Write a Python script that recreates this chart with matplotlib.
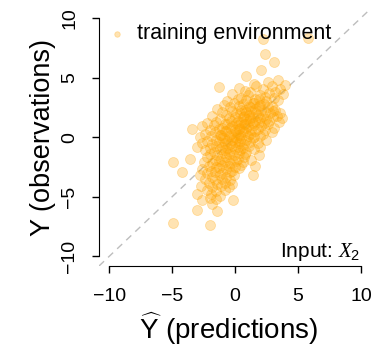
import matplotlib
matplotlib.use("Agg")
import matplotlib.pyplot as plt

plt.rcParams["font.family"] = ["Liberation Sans", "DejaVu Sans"]
plt.rcParams["mathtext.fontset"] = "custom"
plt.rcParams["mathtext.rm"] = "Liberation Sans"
plt.rcParams["mathtext.it"] = "Liberation Serif:italic"

# predictions (x) and observations (y), row by row
pred = [
    2.2, 5.8,
    2.4,
    3.1,
    2.1,
    0.9,
    3.4,
    2.6, 1.5,
    4.0, 2.9,
    -1.3, 0.3, 1.7, 3.6,
    0.8, 2.2, 3.2,
    -0.2, 1.2, 2.0, 2.7, 3.8,
    0.5, 1.0, 1.6, 2.4, 3.1,
    -0.6, 0.2, 0.9, 1.4, 1.9, 2.5, 3.4,
    -0.9, -0.1, 0.6, 1.1, 1.5, 2.0, 2.3, 2.9,
    -1.4, -0.4, 0.3, 0.8, 1.2, 1.6, 1.9, 2.6, 3.2,
    -1.0, -0.2, 0.1, 0.5, 0.9, 1.3, 1.7, 2.1, 2.4, 3.0, 3.6,
    -1.8, -0.7, 0.0, 0.4, 0.7, 1.1, 1.4, 1.8, 2.2, 2.8, 3.3,
    -1.2, -0.5, 0.2, 0.6, 0.9, 1.2, 1.6, 2.0, 2.5, 3.0, 3.7,
    -2.2, -1.5, -0.8, -0.3, 0.1, 0.5, 0.8, 1.1, 1.4, 1.9, 2.3, 2.7, 3.5,
    -2.6, -1.7, -1.0, -0.6, -0.2, 0.2, 0.4, 0.7, 1.0, 1.5, 2.1, 2.6, 3.1,
    -3.4, -2.0, -1.3, -0.8, -0.4, 0.0, 0.3, 0.6, 0.9, 1.3, 1.8, 2.4,
    -2.4, -1.6, -1.1, -0.7, -0.3, 0.1, 0.4, 0.8, 1.2, 1.6, 2.2, 2.9,
    -2.8, -1.9, -1.2, -0.9, -0.5, -0.1, 0.2, 0.5, 1.0, 1.5, 2.0,
    -2.2, -1.5, -1.0, -0.6, -0.2, 0.1, 0.4, 0.9, 1.4, 2.5,
    -2.6, -1.8, -1.3, -0.8, -0.4, 0.0, 0.3, 0.7, 1.2, 1.8,
    -3.0, -2.0, -1.5, -1.0, -0.6, -0.2, 0.2, 0.6, 1.1, 2.0,
    -2.4, -1.7, -1.2, -0.8, -0.4, 0.0, 0.4, 0.9, 1.5,
    -2.0, -1.4, -0.9, -0.5, -0.1, 0.3, 0.8, 1.9,
    -3.6, -2.2, -1.6, -1.1, -0.7, -0.2, 0.2, 0.7, 1.3,
    -4.9, -2.5, -1.8, -1.3, -0.8, -0.4, 0.1, 0.6,
    -2.1, -1.5, -1.0, -0.5, 0.0, 0.5, 1.6,
    -2.6, -1.9, -1.3, -0.7, -0.2, 0.3,
    -4.2, -2.2, -1.6, -1.0, -0.4,
    -2.8, -1.8, -1.2, -0.7, -0.1, 1.45,
    -2.4, -1.6, -1.0, -0.4,
    -2.1, -1.4, -0.8, -0.2,
    -2.7, -1.8, -1.1, -0.5,
    -2.2, -1.5, -0.8,
    -3.0, -1.9, -1.2,
    -2.0, -1.5,
    -2.6, -0.15,
    -1.8,
    -3.0, -1.45,
    -4.9,
    -2.0,
]
obs = [
    8.2, 8.3,
    7.0,
    6.3,
    5.6,
    5.1,
    4.8,
    4.6, 4.5,
    4.4, 4.3,
    4.2, 4.1, 4.3, 4.0,
    3.9, 4.0, 3.8,
    3.6, 3.8, 3.5, 3.7, 3.6,
    3.3, 3.5, 3.2, 3.4, 3.3,
    3.0, 3.2, 3.1, 2.9, 3.2, 3.0, 3.1,
    2.7, 2.9, 2.8, 2.6, 2.9, 2.7, 2.8, 2.6,
    2.4, 2.5, 2.6, 2.3, 2.5, 2.4, 2.6, 2.5, 2.3,
    2.1, 2.2, 2.0, 2.3, 2.1, 2.2, 2.0, 2.3, 2.1, 2.2, 2.0,
    1.8, 1.9, 1.7, 2.0, 1.8, 1.9, 1.7, 1.9, 1.8, 2.0, 1.8,
    1.5, 1.6, 1.4, 1.7, 1.5, 1.6, 1.4, 1.6, 1.5, 1.7, 1.6,
    1.2, 1.3, 1.1, 1.4, 1.2, 1.3, 1.1, 1.4, 1.2, 1.3, 1.2, 1.4, 1.3,
    0.9, 1.0, 0.8, 1.1, 0.9, 1.0, 0.8, 1.1, 0.9, 1.0, 0.9, 1.1, 0.8,
    0.7, 0.6, 0.7, 0.5, 0.8, 0.6, 0.7, 0.5, 0.8, 0.6, 0.7, 0.6,
    0.3, 0.4, 0.2, 0.5, 0.3, 0.4, 0.2, 0.4, 0.3, 0.5, 0.3, 0.4,
    0.0, 0.1, 0.2, -0.1, 0.1, 0.0, 0.2, -0.1, 0.1, 0.0, 0.1,
    -0.3, -0.2, -0.1, -0.3, -0.2, -0.1, -0.3, -0.2, -0.1, -0.2,
    -0.5, -0.6, -0.4, -0.5, -0.6, -0.4, -0.5, -0.6, -0.4, -0.5,
    -0.8, -0.9, -0.7, -0.8, -0.9, -0.7, -0.8, -0.9, -0.7, -0.8,
    -1.1, -1.2, -1.0, -1.1, -1.2, -1.0, -1.1, -1.2, -1.0,
    -1.4, -1.5, -1.3, -1.4, -1.5, -1.3, -1.4, -1.5,
    -1.8, -1.7, -1.9, -1.8, -1.7, -1.9, -1.8, -1.7, -1.9,
    -2.1, -2.1, -2.2, -2.0, -2.1, -2.2, -2.0, -2.1,
    -2.4, -2.5, -2.3, -2.4, -2.5, -2.3, -2.4,
    -2.7, -2.8, -2.6, -2.7, -2.8, -2.6,
    -2.9, -3.0, -2.9, -3.0, -2.9,
    -3.2, -3.3, -3.2, -3.3, -3.2, -3.2,
    -3.5, -3.6, -3.5, -3.6,
    -3.8, -3.9, -3.8, -3.9,
    -4.1, -4.2, -4.1, -4.2,
    -4.4, -4.5, -4.4,
    -4.8, -4.8, -4.9,
    -5.1, -5.2,
    -5.3, -5.3,
    -5.6,
    -6.1, -6.2,
    -7.2,
    -7.4,
]
ticks = [-10, -5, 0, 5, 10]

assert len(pred) == len(obs)

fig = plt.figure(figsize=(3.76, 3.48), dpi=100)
ax = fig.add_axes([99 / 376, 82 / 348, 272 / 376, 257.6 / 348])

ax.axline((0, 0), slope=1, color="#bdbdbd", lw=1.0, ls=(0, (5, 4)), zorder=1)
ax.scatter(pred, obs, s=52, color="orange", alpha=0.3, edgecolors="orange",
           linewidths=0.6, zorder=2, label="training environment")

ax.set_xlim(-10.8, 10.8)
ax.set_ylim(-10.8, 10.8)
ax.set_xticks(ticks)
ax.set_yticks(ticks)
ax.spines["top"].set_visible(False)
ax.spines["right"].set_visible(False)
ax.spines["left"].set_bounds(-10, 10)
ax.spines["bottom"].set_bounds(-10, 10)
ax.tick_params(axis="both", direction="out", length=5, width=1, labelsize=14)
ax.tick_params(axis="x", pad=11)
ax.tick_params(axis="y", pad=10)
for lab in ax.get_yticklabels():
    lab.set_rotation(90)
    lab.set_va("center")

ax.set_xlabel(r"$\widehat{\mathrm{Y}}$ (predictions)", fontsize=20)
ax.xaxis.set_label_coords(0.475, -0.283)
ax.xaxis.label.set_va("baseline")
ax.set_ylabel("Y (observations)", fontsize=19.5, labelpad=4)

ax.text(0.96, 0.035, r"Input: $X_2$", transform=ax.transAxes, ha="right",
        va="baseline", fontsize=15)

ax.legend(loc="upper left", bbox_to_anchor=(-0.02, 1.0), frameon=False,
          fontsize=15.5, markerscale=0.55, handlelength=0.8, handletextpad=0.5,
          borderaxespad=0.3)

fig.savefig("out.png", dpi=100)
